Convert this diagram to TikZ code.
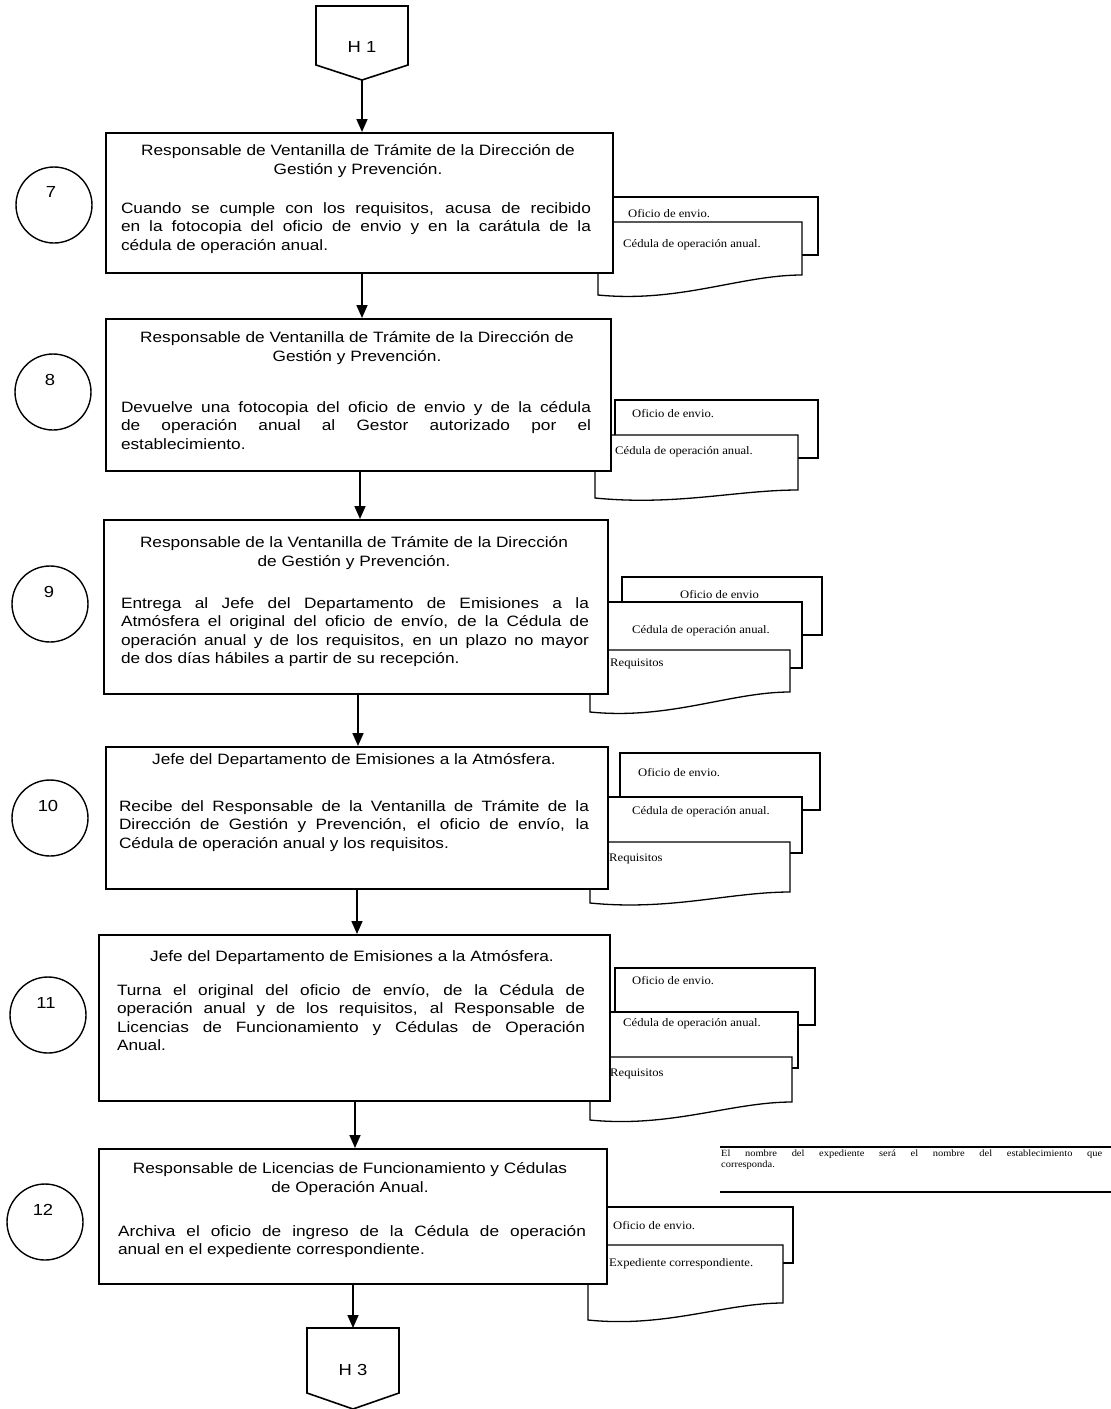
\documentclass[tikz,border=0pt]{standalone}
\usepackage{fontspec}
\setmainfont{Liberation Sans}[FakeStretch=1.15]
\newfontfamily\docfont{Liberation Serif}[FakeStretch=1.1]
\usetikzlibrary{arrows.meta,calc}
\tikzset{
  box/.style={draw, line width=1.6pt, fill=white, anchor=north west, inner sep=0pt},
  doc/.style={draw, line width=1.3pt, fill=white},
  arr/.style={line width=1.6pt, -{Triangle[width=11pt,length=13pt]}},
  num/.style={circle, draw, line width=1.4pt, minimum size=76pt, inner sep=0pt},
  numtxt/.style={font=\fontsize{16}{18}\selectfont, inner sep=0pt},
  ttl/.style={anchor=base, inner sep=0pt, font=\fontsize{15}{19}\selectfont},
  body/.style={anchor=base, inner sep=0pt, font=\fontsize{15}{18.5}\selectfont},
  lbl/.style={anchor=base west, inner sep=0pt, font=\docfont\fontsize{11.5}{13}\selectfont},
  conn/.style={draw, line width=1.6pt, fill=white},
}
\newcommand\fcdoc[4]{\draw[doc] (#1,#2) rectangle (#3,#4);}
\newcommand\fcwdoc[5]{\draw[doc] (#1,#2) -- (#3,#2) -- (#3,#5)
  .. controls ($(#3,#5)!0.3!(#1,#5)$) and ($(#1,#4)!0.4!(#3,#4)+(0,8)$) .. (#1,#4) -- cycle;}
\newcommand\bodytext[2]{\parbox[t]{#1}{\hyphenpenalty=10000\relax #2}}
\begin{document}
\begin{tikzpicture}[x=1pt,y=-1pt]
\useasboundingbox (0,0) rectangle (1111,1409);
\fill[white] (0,0) rectangle (1111,1409);

% off-page connector H1
\draw[conn] (316,6) -- (408,6) -- (408,65) -- (362,80) -- (316,65) -- cycle;
\node[numtxt] (h1) at (362,47) {H 1};
\coordinate (h1tip) at (362,80);

% ---------- document stacks ----------
% step 7
\fcdoc{613}{197}{818}{255}
\fcwdoc{598}{222}{802}{295}{275}
\node[lbl] (l7a) at (628,217) {Oficio de envio.};
\node[lbl] (l7b) at (623,247) {Cédula de operación anual.};
% step 8
\fcdoc{615}{400}{818}{458}
\fcwdoc{595}{435}{798}{498}{490}
\node[lbl] (l8a) at (632,417) {Oficio de envio.};
\node[lbl] (l8b) at (615,454) {Cédula de operación anual.};
% step 9
\fcdoc{622}{577}{822}{635}
\fcdoc{608}{602}{802}{668}
\fcwdoc{590}{650}{790}{712}{692}
\node[lbl] (l9a) at (680,598) {Oficio de envio};
\node[lbl] (l9b) at (632,633) {Cédula de operación anual.};
\node[lbl] (l9c) at (610,666) {Requisitos};
% step 10
\fcdoc{620}{753}{820}{810}
\fcdoc{607}{797}{802}{853}
\fcwdoc{590}{842}{790}{903}{892}
\node[lbl] (l10a) at (638,776) {Oficio de envio.};
\node[lbl] (l10b) at (632,814) {Cédula de operación anual.};
\node[lbl] (l10c) at (609,861) {Requisitos};
% step 11
\fcdoc{615}{968}{815}{1025}
\fcdoc{608}{1012}{798}{1068}
\fcwdoc{590}{1057}{792}{1120}{1102}
\node[lbl] (l11a) at (632,984) {Oficio de envio.};
\node[lbl] (l11b) at (623,1026) {Cédula de operación anual.};
\node[lbl] (l11c) at (610,1076) {Requisitos};
% step 12
\fcdoc{607}{1207}{793}{1263}
\fcwdoc{588}{1245}{783}{1320}{1303}
\node[lbl] (l12a) at (613,1229) {Oficio de envio.};
\node[lbl] (l12b) at (609,1266) {Expediente correspondiente.};

% annotation
\coordinate (annL1) at (720,1147);
\coordinate (annR1) at (1111,1147);
\coordinate (annL2) at (720,1192);
\coordinate (annR2) at (1111,1192);
\draw[line width=1.1pt] (annL1) -- (annR1);
\draw[line width=1.1pt] (annL2) -- (annR2);
\node[anchor=north west, inner sep=0pt, font=\docfont\fontsize{9.5}{10.5}\selectfont] (ann) at (721,1150)
  {\parbox[t]{381pt}{\hyphenpenalty=10000 El nombre del expediente será el nombre del establecimiento que\linebreak corresponda.}};

% ---------- process boxes ----------
\node[box, minimum width=507pt, minimum height=140pt] (b7) at (105,132) {};
\node[box, minimum width=505pt, minimum height=152pt] (b8) at (105,318) {};
\node[box, minimum width=504pt, minimum height=174pt] (b9) at (103,519) {};
\node[box, minimum width=502pt, minimum height=142pt] (b10) at (105,746) {};
\node[box, minimum width=511pt, minimum height=166pt] (b11) at (98,934) {};
\node[box, minimum width=508pt, minimum height=135pt] (b12) at (98,1148) {};

% texts step 7
\node[ttl] (t7) at (358,155) {\parbox[t]{490pt}{\centering Responsable de Ventanilla de Trámite de la Dirección de\\Gestión y Prevención.}};
\node[body] (x7) at (356,213) {\bodytext{470pt}{Cuando se cumple con los requisitos, acusa de recibido\linebreak en la fotocopia del oficio de envio y en la carátula de la\linebreak cédula de operación anual.}};
% step 8
\node[ttl] (t8) at (357,342) {\parbox[t]{490pt}{\centering Responsable de Ventanilla de Trámite de la Dirección de\\Gestión y Prevención.}};
\node[body] (x8) at (356,412) {\bodytext{470pt}{Devuelve una fotocopia del oficio de envio y de la cédula\linebreak de operación anual al Gestor autorizado por el\linebreak establecimiento.}};
% step 9
\node[ttl] (t9) at (354,547) {\parbox[t]{490pt}{\centering Responsable de la Ventanilla de Trámite de la Dirección\\de Gestión y Prevención.}};
\node[body] (x9) at (355,608) {\bodytext{468pt}{Entrega al Jefe del Departamento de Emisiones a la\linebreak Atmósfera el original del oficio de envío, de la Cédula de\linebreak operación anual y de los requisitos, en un plazo no mayor\linebreak de dos días hábiles a partir de su recepción.}};
% step 10
\node[ttl] (t10) at (354,764) {\parbox[t]{490pt}{\centering Jefe del Departamento de Emisiones a la Atmósfera.}};
\node[body] (x10) at (354,811) {\bodytext{470pt}{Recibe del Responsable de la Ventanilla de Trámite de la\linebreak Dirección de Gestión y Prevención, el oficio de envío, la\linebreak Cédula de operación anual y los requisitos.}};
% step 11
\node[ttl] (t11) at (352,961) {\parbox[t]{490pt}{\centering Jefe del Departamento de Emisiones a la Atmósfera.}};
\node[body] (x11) at (351,995) {\bodytext{468pt}{Turna el original del oficio de envío, de la Cédula de\linebreak operación anual y de los requisitos, al Responsable de\linebreak Licencias de Funcionamiento y Cédulas de Operación\linebreak Anual.}};
% step 12
\node[ttl] (t12) at (350,1173) {\parbox[t]{490pt}{\centering Responsable de Licencias de Funcionamiento y Cédulas\\de Operación Anual.}};
\node[body] (x12) at (352,1236) {\bodytext{468pt}{Archiva el oficio de ingreso de la Cédula de operación\linebreak anual en el expediente correspondiente.}};

% ---------- step numbers ----------
\node[num] (c7) at (54,205) {};
\node[numtxt] (n7) at (51,192) {7};
\node[num] (c8) at (53,392) {};
\node[numtxt] (n8) at (50,380) {8};
\node[num] (c9) at (50,604) {};
\node[numtxt] (n9) at (49,592) {9};
\node[num] (c10) at (50,818) {};
\node[numtxt] (n10) at (48,806) {10};
\node[num] (c11) at (48,1015) {};
\node[numtxt] (n11) at (46,1003) {11};
\node[num] (c12) at (45,1222) {};
\node[numtxt] (n12) at (43,1210) {12};

% off-page connector H3
\draw[conn] (307,1328) -- (399,1328) -- (399,1393) -- (353,1409) -- (307,1393) -- cycle;
\node[numtxt] (h3) at (353,1370) {H 3};
\coordinate (h3top) at (353,1328);

% ---------- connectors ----------
\coordinate (a7) at (362,0);
\coordinate (a8) at (360,0);
\coordinate (a9) at (358,0);
\coordinate (a10) at (357,0);
\coordinate (a11) at (355,0);
\coordinate (a12) at (353,0);
\draw[arr] (h1tip) -- (b7.north -| h1tip);
\draw[arr] (b7.south -| a7) -- (b8.north -| a7);
\draw[arr] (b8.south -| a8) -- (b9.north -| a8);
\draw[arr] (b9.south -| a9) -- (b10.north -| a9);
\draw[arr] (b10.south -| a10) -- (b11.north -| a10);
\draw[arr] (b11.south -| a11) -- (b12.north -| a11);
\draw[arr] (b12.south -| a12) -- (h3top);
\end{tikzpicture}
\end{document}
